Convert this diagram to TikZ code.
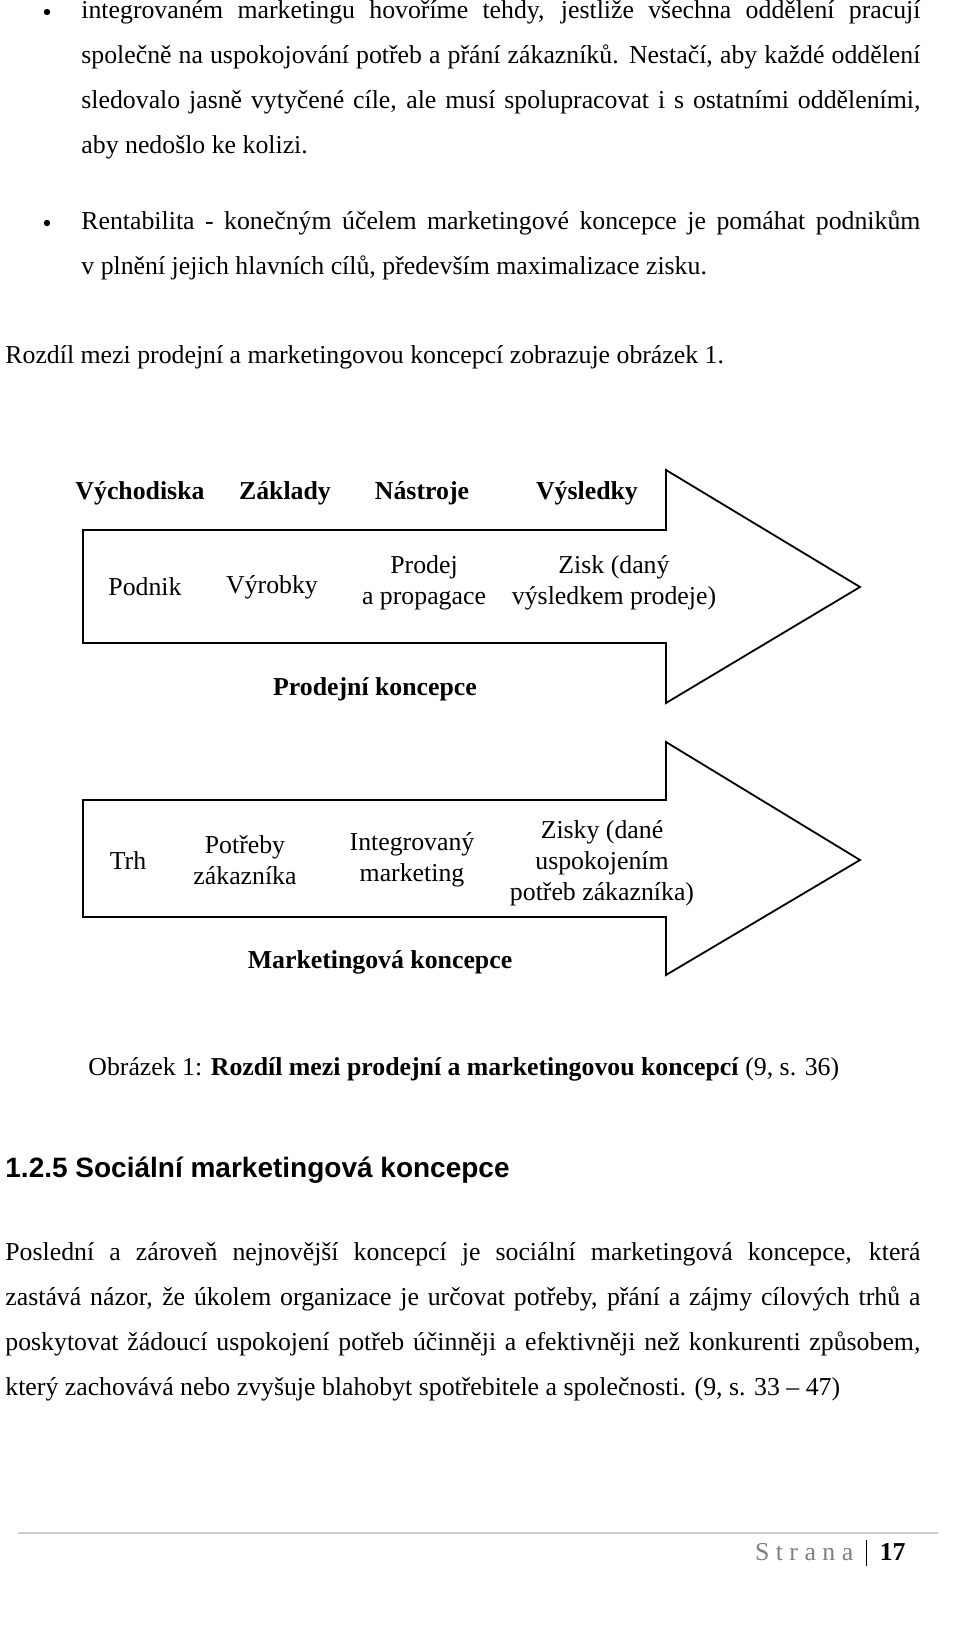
\documentclass[tikz,border=0pt]{standalone}
\usepackage{fontspec}
\setmainfont{Liberation Serif}
\newfontfamily\hsans{Liberation Sans}
\begin{document}
\begin{tikzpicture}[x=0.5pt,y=-0.5pt,
  txt/.style={anchor=west,inner sep=0pt,font=\fontsize{12.9}{15}\selectfont},
  lab/.style={inner sep=0pt,align=center,font=\fontsize{12.9}{15.5}\selectfont},
  hdr/.style={inner sep=0pt,font=\fontsize{12.9}{15}\selectfont\bfseries},
  arr/.style={draw,line width=0.9pt,fill=white}]
\useasboundingbox (0,0) rectangle (960,1627);
% bullets
\foreach \y in {12,223}{\fill (47,\y) circle (3.2);}
\node[txt] (l1) at (81,12) {\makebox[419.5pt][s]{integrovaném marketingu hovoříme tehdy, jestliže všechna oddělení pracují}};
\node[txt] (l2) at (81,57) {\makebox[419.5pt][s]{společně na uspokojování potřeb a přání zákazníků. Nestačí, aby každé oddělení}};
\node[txt] (l3) at (81,102) {\makebox[419.5pt][s]{sledovalo jasně vytyčené cíle, ale musí spolupracovat i s ostatními odděleními,}};
\node[txt] (l4) at (81,147) {aby nedošlo ke kolizi.};
\node[txt] (l5) at (81,223) {\makebox[419.5pt][s]{Rentabilita - konečným účelem marketingové koncepce je pomáhat podnikům}};
\node[txt] (l6) at (81,268) {v plnění jejich hlavních cílů, především maximalizace zisku.};
\node[txt] (l7) at (5,357) {Rozdíl mezi prodejní a marketingovou koncepcí zobrazuje obrázek 1.};
% arrows
\draw[arr] (83,530) -- (666,530) -- (666,470) -- (860,587) -- (666,703) -- (666,643) -- (83,643) -- cycle;
\draw[arr] (83,800) -- (666,800) -- (666,742) -- (860,860) -- (666,975) -- (666,917) -- (83,917) -- cycle;
\node[hdr] (h1) at (140,493) {Východiska};
\node[hdr] (h2) at (285,493) {Základy};
\node[hdr] (h3) at (422,493) {Nástroje};
\node[hdr] (h4) at (587,493) {Výsledky};
\node[lab] (a1) at (145,587) {Podnik};
\node[lab] (a2) at (272,587) {Výrobky};
\node[lab] (a3) at (424,583) {Prodej\\a propagace};
\node[lab] (a4) at (614,583) {Zisk (daný\\výsledkem prodeje)};
\node[hdr] (c1) at (375,689) {Prodejní koncepce};
\node[lab] (b1) at (128,861) {Trh};
\node[lab] (b2) at (245,860) {Potřeby\\zákazníka};
\node[lab] (b3) at (412,860) {Integrovaný\\marketing};
\node[lab] (b4) at (602,863) {Zisky (dané\\uspokojením\\potřeb zákazníka)};
\node[hdr] (c2) at (380,962) {Marketingová koncepce};
\node[txt] (cap) at (88,1069) {Obrázek 1: \textbf{Rozdíl mezi prodejní a marketingovou koncepcí} (9, s. 36)};
\node[anchor=west,inner sep=0pt,font=\fontsize{14}{16}\hsans\bfseries] (sec) at (5,1170) {1.2.5 Sociální marketingová koncepce};
\node[txt] (p1) at (5,1254) {\makebox[457.5pt][s]{Poslední a zároveň nejnovější koncepcí je sociální marketingová koncepce, která}};
\node[txt] (p2) at (5,1299) {\makebox[457.5pt][s]{zastává názor, že úkolem organizace je určovat potřeby, přání a zájmy cílových trhů a}};
\node[txt] (p3) at (5,1344) {\makebox[457.5pt][s]{poskytovat žádoucí uspokojení potřeb účinněji a efektivněji než konkurenti způsobem,}};
\node[txt] (p4) at (5,1389) {který zachovává nebo zvyšuje blahobyt spotřebitele a společnosti. (9, s. 33 -- 47)};
\draw[gray!40,line width=0.6pt] (18,1533) -- (938,1533);
\node[anchor=east,inner sep=0pt,font=\fontsize{12.9}{15}\selectfont] (pg) at (906,1553) {\textcolor{gray}{S t r a n a}\enspace\vrule height 10pt depth 3pt\enspace\textbf{17}};
\end{tikzpicture}
\end{document}
